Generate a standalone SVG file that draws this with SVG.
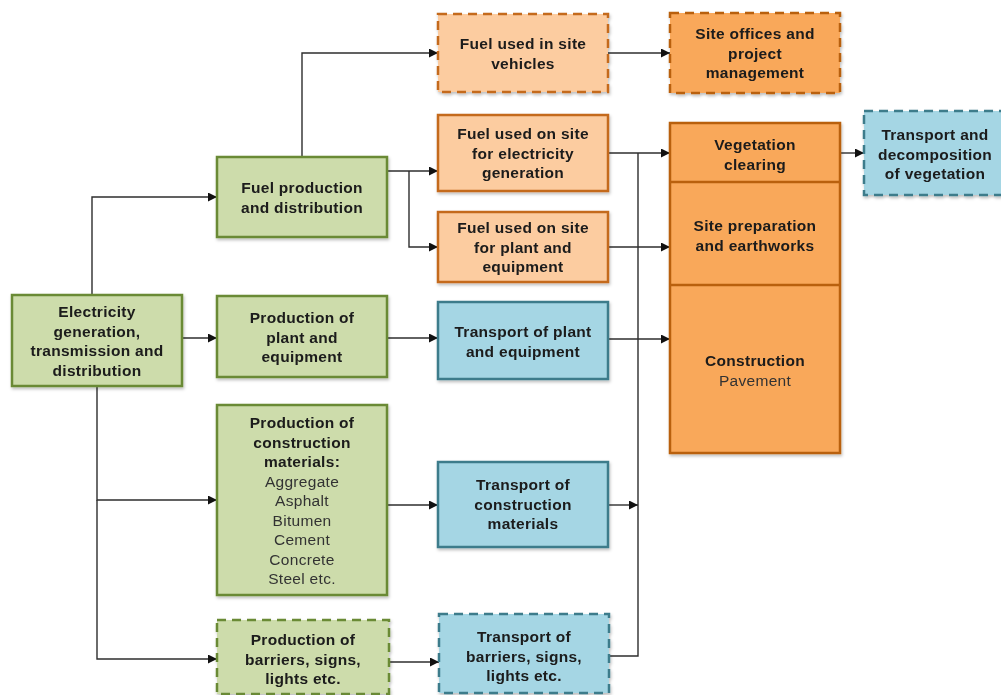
<svg xmlns="http://www.w3.org/2000/svg" width="1001" height="695" viewBox="0 0 1001 695">
  <style>
    text { font-family: "Liberation Sans", Arial, sans-serif; font-size: 15.5px; letter-spacing: 0.3px; fill: #1a1a1a; text-anchor: middle; }
    .b { font-weight: bold; }
    .r { font-weight: normal; fill: #333; }
    .box { stroke-width: 2.5; }
    .dash { stroke-dasharray: 9 6; }
    .green { fill: #cddcab; stroke: #6a8a34; }
    .peach { fill: #fccca0; stroke: #c46a1c; }
    .orange { fill: #f9a85a; stroke: #b9610f; }
    .blue { fill: #a5d6e4; stroke: #3d7c8b; }
    .wire { fill: none; stroke: #2e2e2e; stroke-width: 1.4; }
  </style>
  <defs>
    <marker id="arrow" viewBox="0 0 10 10" refX="10" refY="5" markerWidth="9" markerHeight="9" markerUnits="userSpaceOnUse" orient="auto">
      <path d="M0,0 L10,5 L0,10 Z" fill="#111"/>
    </marker>
    <filter id="shadow" x="-10%" y="-10%" width="130%" height="130%">
      <feDropShadow dx="1" dy="2" stdDeviation="1.5" flood-color="#000" flood-opacity="0.25"/>
    </filter>
  </defs>
  <rect width="1001" height="695" fill="#fff"/>

  <!-- connectors -->
  <g id="connectors" class="wire">
    <path d="M92,295 V197 H217" marker-end="url(#arrow)"/>
    <path d="M302,157 V53 H438" marker-end="url(#arrow)"/>
    <path d="M387,171 H438" marker-end="url(#arrow)"/>
    <path d="M409,171 V247 H438" marker-end="url(#arrow)"/>
    <path d="M182,338 H217" marker-end="url(#arrow)"/>
    <path d="M97,386 V500 H217" marker-end="url(#arrow)"/>
    <path d="M97,500 V659 H217" marker-end="url(#arrow)"/>
    <path d="M387,338 H438" marker-end="url(#arrow)"/>
    <path d="M387,505 H438" marker-end="url(#arrow)"/>
    <path d="M389,662 H439" marker-end="url(#arrow)"/>
    <path d="M608,53 H670" marker-end="url(#arrow)"/>
    <path d="M608,153 H670" marker-end="url(#arrow)"/>
    <path d="M608,247 H670" marker-end="url(#arrow)"/>
    <path d="M608,339 H670" marker-end="url(#arrow)"/>
    <path d="M608,505 H638" marker-end="url(#arrow)"/>
    <path d="M609,656 H638 V153"/>
    <path d="M840,153 H864" marker-end="url(#arrow)"/>
  </g>

  <g id="electricity" filter="url(#shadow)">
    <rect class="box green" x="12" y="295" width="170" height="91"/>
    <text class="b" x="97" y="317">Electricity</text>
    <text class="b" x="97" y="336.5">generation,</text>
    <text class="b" x="97" y="356">transmission and</text>
    <text class="b" x="97" y="375.5">distribution</text>
  </g>

  <g id="fuel-production" filter="url(#shadow)">
    <rect class="box green" x="217" y="157" width="170" height="80"/>
    <text class="b" x="302" y="193">Fuel production</text>
    <text class="b" x="302" y="212.5">and distribution</text>
  </g>

  <g id="plant-production" filter="url(#shadow)">
    <rect class="box green" x="217" y="296" width="170" height="81"/>
    <text class="b" x="302" y="323">Production of</text>
    <text class="b" x="302" y="342.5">plant and</text>
    <text class="b" x="302" y="362">equipment</text>
  </g>

  <g id="materials-production" filter="url(#shadow)">
    <rect class="box green" x="217" y="405" width="170" height="190"/>
    <text class="b" x="302" y="428">Production of</text>
    <text class="b" x="302" y="447.5">construction</text>
    <text class="b" x="302" y="467">materials:</text>
    <text class="r" x="302" y="486.5">Aggregate</text>
    <text class="r" x="302" y="506">Asphalt</text>
    <text class="r" x="302" y="525.5">Bitumen</text>
    <text class="r" x="302" y="545">Cement</text>
    <text class="r" x="302" y="564.5">Concrete</text>
    <text class="r" x="302" y="584">Steel etc.</text>
  </g>

  <g id="barriers-production" filter="url(#shadow)">
    <rect class="box green dash" x="217" y="620" width="172" height="74"/>
    <text class="b" x="303" y="645">Production of</text>
    <text class="b" x="303" y="664.5">barriers, signs,</text>
    <text class="b" x="303" y="684">lights etc.</text>
  </g>

  <g id="fuel-vehicles" filter="url(#shadow)">
    <rect class="box peach dash" x="438" y="14" width="170" height="78"/>
    <text class="b" x="523" y="49">Fuel used in site</text>
    <text class="b" x="523" y="68.5">vehicles</text>
  </g>

  <g id="fuel-electricity" filter="url(#shadow)">
    <rect class="box peach" x="438" y="115" width="170" height="76"/>
    <text class="b" x="523" y="139">Fuel used on site</text>
    <text class="b" x="523" y="158.5">for electricity</text>
    <text class="b" x="523" y="178">generation</text>
  </g>

  <g id="fuel-plant" filter="url(#shadow)">
    <rect class="box peach" x="438" y="212" width="170" height="70"/>
    <text class="b" x="523" y="233">Fuel used on site</text>
    <text class="b" x="523" y="252.5">for plant and</text>
    <text class="b" x="523" y="272">equipment</text>
  </g>

  <g id="transport-plant" filter="url(#shadow)">
    <rect class="box blue" x="438" y="302" width="170" height="77"/>
    <text class="b" x="523" y="337">Transport of plant</text>
    <text class="b" x="523" y="356.5">and equipment</text>
  </g>

  <g id="transport-materials" filter="url(#shadow)">
    <rect class="box blue" x="438" y="462" width="170" height="85"/>
    <text class="b" x="523" y="490">Transport of</text>
    <text class="b" x="523" y="509.5">construction</text>
    <text class="b" x="523" y="529">materials</text>
  </g>

  <g id="transport-barriers" filter="url(#shadow)">
    <rect class="box blue dash" x="439" y="614" width="170" height="79"/>
    <text class="b" x="524" y="642">Transport of</text>
    <text class="b" x="524" y="661.5">barriers, signs,</text>
    <text class="b" x="524" y="681">lights etc.</text>
  </g>

  <g id="site-offices" filter="url(#shadow)">
    <rect class="box orange dash" x="670" y="13" width="170" height="80"/>
    <text class="b" x="755" y="39">Site offices and</text>
    <text class="b" x="755" y="58.5">project</text>
    <text class="b" x="755" y="78">management</text>
  </g>

  <g id="site-works" filter="url(#shadow)">
    <rect class="box orange" x="670" y="123" width="170" height="330"/>
    <line x1="670" y1="182" x2="840" y2="182" stroke="#b9610f" stroke-width="2.5"/>
    <line x1="670" y1="285" x2="840" y2="285" stroke="#b9610f" stroke-width="2.5"/>
    <text class="b" x="755" y="150">Vegetation</text>
    <text class="b" x="755" y="169.5">clearing</text>
    <text class="b" x="755" y="231">Site preparation</text>
    <text class="b" x="755" y="250.5">and earthworks</text>
    <text class="b" x="755" y="366">Construction</text>
    <text class="r" x="755" y="385.5">Pavement</text>
  </g>

  <g id="vegetation-transport" filter="url(#shadow)">
    <rect class="box blue dash" x="864" y="111" width="140" height="84"/>
    <text class="b" x="935" y="140">Transport and</text>
    <text class="b" x="935" y="159.5">decomposition</text>
    <text class="b" x="935" y="179">of vegetation</text>
  </g>
</svg>
